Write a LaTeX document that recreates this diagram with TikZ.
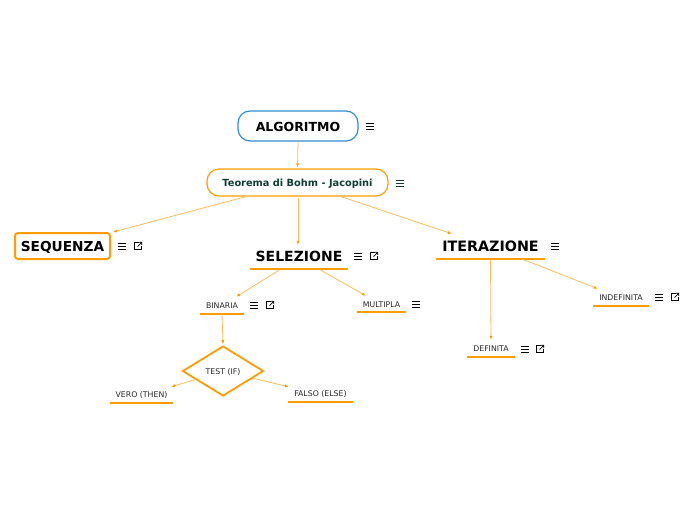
\documentclass[tikz,border=0pt]{standalone}
\usepackage{fontspec}
\setmainfont{DejaVu Sans}
\usetikzlibrary{arrows.meta,shapes.geometric}
\definecolor{mapblue}{HTML}{2E8FD0}
\definecolor{maporange}{HTML}{FF9C00}
\definecolor{mapline}{HTML}{FFBC57}
\definecolor{mapgreen}{HTML}{0E3D33}
\begin{document}
\begin{tikzpicture}[x=1pt,y=-1pt,>={Latex[length=4pt,width=3.2pt,maporange]},
    link/.style={->,mapline,line width=.8pt},
    big/.style={font=\fontsize{14}{16}\selectfont\bfseries,inner sep=0pt},
    small/.style={font=\fontsize{7.8}{9}\selectfont,text=black!85,inner sep=0pt,text height=6pt,text depth=0pt},
    uline/.style={maporange,line width=1.8pt},
    menuicon/.pic={\draw[line width=.9pt,pic actions](-4,-3)--(4,-3)(-4,0)--(4,0)(-4,3)--(4,3);},
    openicon/.pic={\draw[line width=.7pt](.5,-3.5)--(-3.5,-3.5)--(-3.5,3.5)--(3.5,3.5)--(3.5,0);
        \draw[line width=.7pt](-.5,.5)--(3.8,-3.8)(1.2,-3.8)--(3.8,-3.8)--(3.8,-1.2);}]
\useasboundingbox (0,0) rectangle (697,520);

\node[draw=mapblue,line width=1.2pt,rounded corners=12pt,minimum width=120pt,minimum height=30pt,font=\fontsize{12.5}{15}\selectfont\bfseries,inner sep=0pt,text height=10.5pt,text depth=0pt](algo) at (298,126){ALGORITMO};
\node[draw=maporange,line width=1.2pt,rounded corners=12pt,minimum width=181pt,minimum height=27pt,text=mapgreen,font=\fontsize{9.8}{11}\selectfont\bfseries,inner sep=0pt,text height=8.8pt,text depth=0pt](teo) at (297.5,182.5){Teorema di Bohm - Jacopini};
\node[draw=maporange,big,font=\fontsize{13.7}{16}\selectfont\bfseries,line width=2pt,rounded corners=3pt,minimum width=95pt,minimum height=26pt,text height=11.5pt,text depth=0pt](seq) at (62.5,246){SEQUENZA};

\node[big,minimum width=98pt,minimum height=23.5pt](sel) at (299,256.7){SELEZIONE};
\node[big,font=\fontsize{14.3}{16}\selectfont\bfseries,minimum width=109pt,minimum height=24.5pt](iter) at (490.5,246.2){ITERAZIONE};
\node[small,minimum width=44pt,minimum height=16.5pt](bin) at (222,305.2){BINARIA};
\node[small,minimum width=49pt,minimum height=16pt](mult) at (381.5,304){MULTIPLA};
\node[small,minimum width=63pt,minimum height=17pt](vero) at (141.5,394.5){VERO (THEN)};
\node[small,minimum width=65pt,minimum height=17pt](falso) at (320.5,393.5){FALSO (ELSE)};
\node[small,minimum width=48pt,minimum height=17pt](def) at (491,348.5){DEFINITA};
\node[small,minimum width=56pt,minimum height=16.5pt](indef) at (621,297.2){INDEFINITA};
\node[draw=maporange,small,line width=1.8pt,diamond,aspect=1.62,minimum width=81pt,minimum height=50pt](test) at (223,371){TEST (IF)};

\foreach \n in {sel,iter,bin,mult,vero,falso,def,indef}
    \draw[uline](\n.south west)--(\n.south east);

\draw[link](algo.south)--([yshift=1pt]teo.north);
\draw[link]([xshift=-51.5pt]teo.south)--([xshift=2pt]seq.north east);
\draw[link]([xshift=.5pt,yshift=-1pt]teo.south)--([xshift=-1pt]sel.north);
\draw[link]([xshift=43.5pt]teo.south)--([xshift=16pt]iter.north west);
\draw[link]([xshift=-19pt,yshift=-1pt]sel.south)--([xshift=-8pt]bin.north east);
\draw[link]([xshift=21pt,yshift=-1pt]sel.south)--([xshift=9pt]mult.north west);
\draw[link](bin.south)--([yshift=1pt]test.north);
\draw[link]([xshift=-27pt,yshift=-8.3pt]test.center)--([xshift=-2pt,yshift=-1pt]vero.north east);
\draw[link]([xshift=29pt,yshift=-7pt]test.center)--([xshift=1pt,yshift=-2pt]falso.north west);
\draw[link](iter.south)--(def.north);
\draw[link]([xshift=30.5pt]iter.south)--([xshift=5pt]indef.north west);

\foreach \p in {(370,126.5),(122,246),(358,256),(555,246),(254,305),(416,304),(525,349),(659,297)}
    \pic at \p {menuicon};
\pic[mapgreen] at (400,183) {menuicon};
\foreach \p in {(138,246),(374,256),(270,305),(540,349),(675,297)}
    \pic at \p {openicon};
\end{tikzpicture}
\end{document}
